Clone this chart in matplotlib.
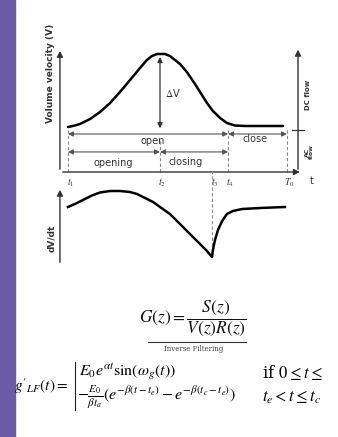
import matplotlib
matplotlib.use("Agg")
import matplotlib.pyplot as plt
from matplotlib.lines import Line2D

plt.rcParams['mathtext.fontset'] = 'stix'
plt.rcParams['font.family'] = ['DejaVu Sans']

# Glottal flow (volume velocity), time normalised so t1 = 0
t_flow = [0.0, 0.030, 0.052, 0.096, 0.139, 0.183, 0.226, 0.270, 0.313, 0.343, 0.365,
          0.387, 0.422, 0.443, 0.465, 0.487, 0.517, 0.552, 0.574, 0.604, 0.630,
          0.661, 0.691, 0.726, 0.770, 0.935]
v_flow = [0.381, 0.394, 0.407, 0.449, 0.508, 0.585, 0.678, 0.780, 0.881, 0.949, 0.983,
          1.0, 1.0, 0.983, 0.949, 0.915, 0.847, 0.746, 0.678, 0.585, 0.517,
          0.458, 0.415, 0.394, 0.390, 0.390]

# Glottal flow derivative
t_deriv = [0.0, 0.030, 0.065, 0.104, 0.139, 0.183, 0.226, 0.270, 0.300, 0.335, 0.370,
           0.400, 0.443, 0.487, 0.530, 0.574, 0.604, 0.626, 0.630, 0.639, 0.652,
           0.670, 0.691, 0.717, 0.757, 0.835, 0.943]
d_deriv = [0.0, 0.06, 0.14, 0.23, 0.29, 0.32, 0.32, 0.30, 0.26, 0.18, 0.10,
           0.0, -0.14, -0.34, -0.54, -0.74, -0.88, -1.00, -0.86, -0.66, -0.46,
           -0.28, -0.14, -0.08, -0.04, -0.02, 0.0]

# Instants
t_marks = [0.0, 0.40, 0.626, 0.696, 0.952]
t_labels = ["$t_1$", "$t_2$", "$t_3$", "$t_4$", "$T_0$"]

W, H = 338, 437
fig = plt.figure(figsize=(W / 100, H / 100), dpi=100)
fig.patch.set_facecolor("white")

# purple side band
fig.add_artist(plt.Rectangle((0, 0), 15 / W, 1, transform=fig.transFigure,
                             color="#6a5aa8", zorder=0))

gray = "#555555"
light = "#8a8a8a"
dark = "#333333"

ax_top = fig.add_axes([40 / W, 1 - 190 / H, 290 / W, 150 / H])
ax_bot = fig.add_axes([40 / W, 1 - 275 / H, 290 / W, 90 / H])
for a in (ax_top, ax_bot):
    a.set_xlim(-0.1217, 1.139)
    a.axis("off")
    a.patch.set_alpha(0)
ax_top.set_ylim(-0.1525, 1.1186)
ax_bot.set_ylim(-1.36, 0.44)

t1, t2, t3, t4, T0 = t_marks

# top curve
ax_top.plot(t_flow, v_flow, color="black", lw=1.8, solid_capstyle="round",
            solid_joinstyle="round")

# axes of the top plot
arrow_kw = dict(arrowstyle="-|>,head_width=0.18,head_length=0.35", color=dark, lw=1.0)
ax_top.annotate("", xy=(-0.035, 1.05), xytext=(-0.035, 0.0), arrowprops=arrow_kw)
ax_top.annotate("", xy=(1.02, 0.0), xytext=(-0.035, 0.0), arrowprops=arrow_kw)
ax_top.annotate("", xy=(1.0, 1.06), xytext=(1.0, 0.0), arrowprops=arrow_kw)
ax_top.plot([0.975, 1.025], [0.356, 0.356], color=dark, lw=0.9)

# dashed markers
dash_tops = [0.356, 0.27, None, 0.373, 0.373]
for tm, top in zip(t_marks, dash_tops):
    if top is not None:
        ax_top.plot([tm, tm], [0, top], color=light, lw=0.8, ls=(0, (3, 2)))
ax_bot.plot([t3, t3], [min(d_deriv), 0.72], color=light, lw=0.8, ls=(0, (3, 2)),
            clip_on=False)

# phase arrows
ph_kw = dict(arrowstyle="<|-|>,head_width=0.15,head_length=0.3", color=gray, lw=0.8,
             shrinkA=0, shrinkB=0)
ax_top.annotate("", xy=(t1, 0.322), xytext=(t4, 0.322), arrowprops=ph_kw)
ax_top.annotate("", xy=(t4, 0.322), xytext=(T0, 0.322), arrowprops=ph_kw)
ax_top.annotate("", xy=(t1, 0.17), xytext=(t2, 0.17), arrowprops=ph_kw)
ax_top.annotate("", xy=(t2, 0.17), xytext=(t4, 0.17), arrowprops=ph_kw)
# Delta V
ax_top.annotate("", xy=(0.40, 0.37), xytext=(0.40, 0.975),
                arrowprops=dict(arrowstyle="<|-|>,head_width=0.15,head_length=0.3",
                                color=dark, lw=0.9, shrinkA=0, shrinkB=0))

txt = dict(fontsize=7, color=dark, ha="center", va="center")
ax_top.text(0.457, 0.67, r"$\Delta$V", **txt)
ax_top.text(0.37, 0.262, "open", **txt)
ax_top.text(0.815, 0.28, "close", **txt)
ax_top.text(0.196, 0.076, "opening", **txt)
ax_top.text(0.513, 0.085, "closing", **txt)
for tm, lab in zip(t_marks, t_labels):
    ax_top.text(tm + 0.01, -0.09, lab, fontsize=7, color=dark, ha="center", va="center")
ax_top.text(1.058, -0.075, "t", **txt)
ax_top.text(1.045, 0.65, "DC flow", rotation=90, fontsize=5, color=dark,
            ha="center", va="center", fontweight="bold")
ax_top.text(1.05, 0.17, "AC\nflow", rotation=90, fontsize=4.5, color=dark,
            ha="center", va="center", fontweight="bold", linespacing=0.9)
ax_top.text(-0.075, 0.84, "Volume velocity (V)", rotation=90, fontsize=6.5,
            color=dark, ha="center", va="center", fontweight="bold")

# bottom curve
ax_bot.plot(t_deriv, d_deriv, color="black", lw=1.8, solid_joinstyle="round")
ax_bot.annotate("", xy=(-0.035, 0.40), xytext=(-0.035, -1.16), arrowprops=arrow_kw)
ax_bot.text(-0.072, -0.62, "dV/dt", rotation=90, fontsize=6.5, color=dark,
            ha="center", va="center", fontweight="bold")

# equations
fig.text(193 / W, 1 - 318 / H, r"$G(z) = \dfrac{S(z)}{V(z)R(z)}$", fontsize=12.5,
         ha="center", va="center", color="#111111")
fig.add_artist(Line2D([148 / W, 246 / W], [1 - 342 / H, 1 - 342 / H], color=dark,
                      lw=0.8))
fig.text(194 / W, 1 - 349 / H, "Inverse Filtering", fontsize=5, ha="center",
         va="center", color="#444444", family="serif")

fig.text(14 / W, 1 - 386 / H, r"$g'_{LF}(t) = $", fontsize=11, ha="left", va="center")
fig.add_artist(Line2D([75 / W, 75 / W], [1 - 362 / H, 1 - 410 / H], color="#222222", lw=0.8))
fig.text(79 / W, 1 - 372 / H, r"$E_0 e^{\alpha t} \sin(\omega_g(t))$", fontsize=11.5,
         ha="left", va="center")
fig.text(262 / W, 1 - 372 / H, r"if $0 \leq t \leq$", fontsize=12, ha="left",
         va="center", family="serif")
fig.text(77 / W, 1 - 397 / H,
         r"$-\frac{E_0}{\beta t_a}(e^{-\beta(t-t_e)} - e^{-\beta(t_c-t_e)})$",
         fontsize=11.5, ha="left", va="center")
fig.text(262 / W, 1 - 397 / H, r"$t_e < t \leq t_c$", fontsize=12, ha="left", va="center")

fig.savefig("out.png", dpi=100)
